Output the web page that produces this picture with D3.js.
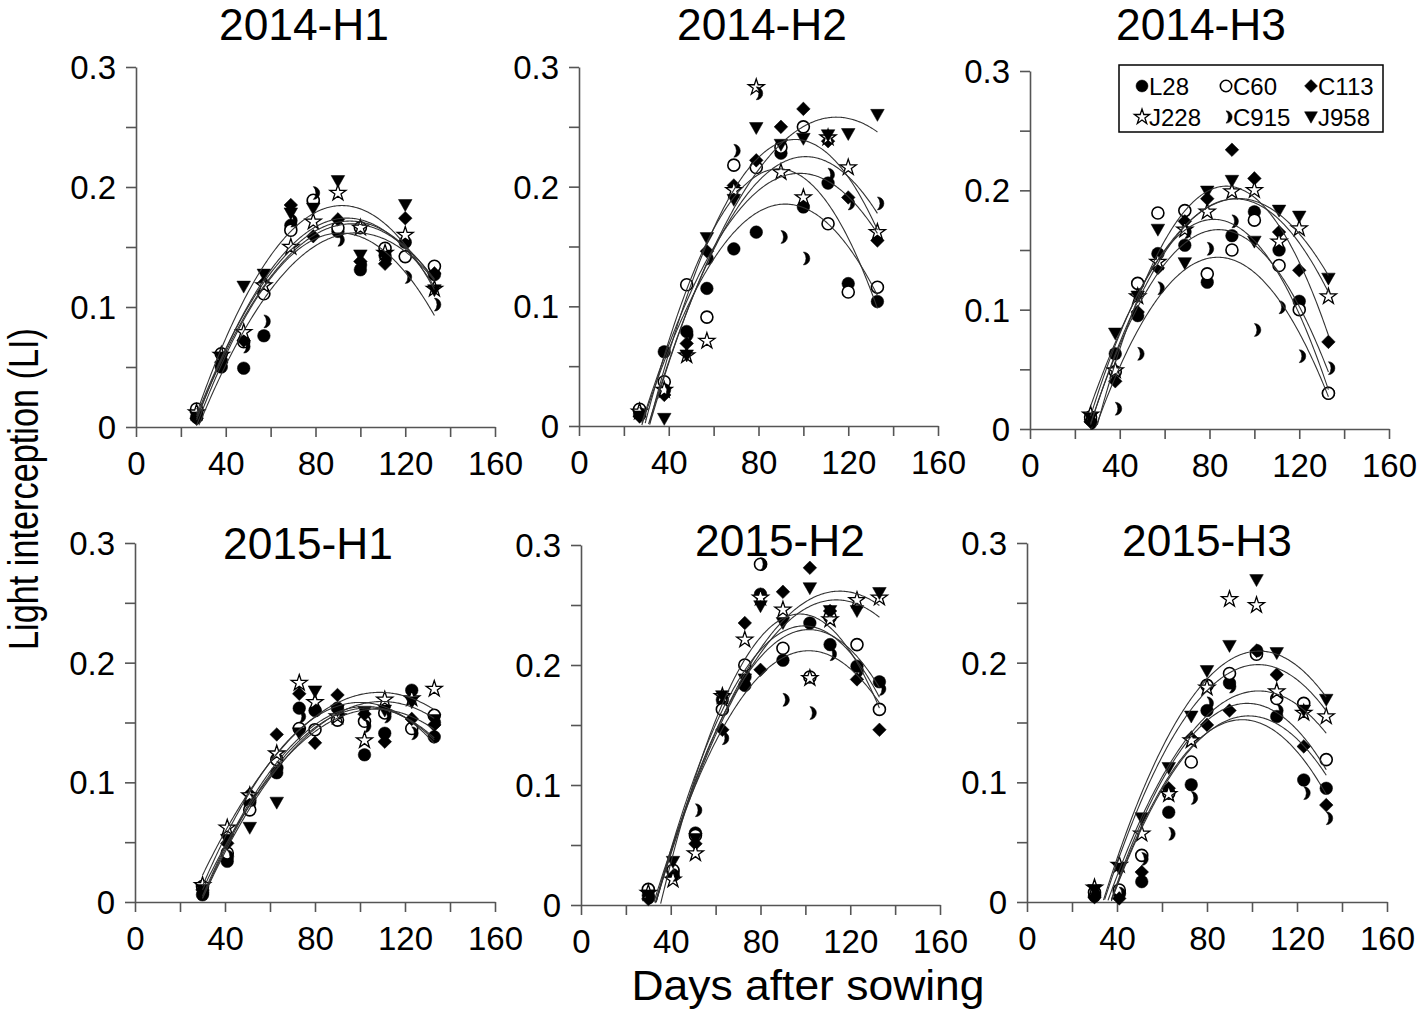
<!DOCTYPE html>
<html><head><meta charset="utf-8">
<script src="https://cdn.jsdelivr.net/npm/d3@7"></script>
<style>
body{margin:0;background:#fff}
svg{display:block}
text{font-family:"Liberation Sans",Arial,Helvetica,sans-serif;fill:#000}
</style>
</head><body>
<svg id="chart" width="1418" height="1013"></svg>
<script>
// ---------------- DATA ----------------
const genotypes = ["L28", "C60", "C113", "J228", "C915", "J958"];
const panelTitles = ["2014-H1", "2014-H2", "2014-H3", "2015-H1", "2015-H2", "2015-H3"];
const days2014 = [27, 38, 48, 57, 69, 79, 90, 100, 111, 120, 133];
const days2015 = [30, 41, 51, 63, 73, 80, 90, 102, 111, 123, 133];
const xTickValues = [0, 20, 40, 60, 80, 100, 120, 140, 160];
const xTickLabels = ["0", "", "40", "", "80", "", "120", "", "160"];
const yTickValues = [0, 0.05, 0.1, 0.15, 0.2, 0.25, 0.3];
const yTickLabels = ["0", "", "0.1", "", "0.2", "", "0.3"];

// rows follow genotypes order: L28, C60, C113, J228, C915, J958
const li2014H1 = [
  [0.008, 0.050, 0.049, 0.076, 0.168, 0.188, 0.163, 0.131, 0.143, 0.154, 0.127],
  [0.015, 0.061, 0.071, 0.111, 0.164, 0.189, 0.166, 0.166, 0.149, 0.142, 0.134],
  [0.007, 0.054, 0.072, 0.120, 0.185, 0.159, 0.173, 0.138, 0.136, 0.174, 0.128],
  [0.012, 0.060, 0.079, 0.118, 0.150, 0.171, 0.195, 0.166, 0.145, 0.160, 0.115],
  [0.010, 0.055, 0.067, 0.088, 0.172, 0.195, 0.156, 0.135, 0.140, 0.125, 0.102],
  [0.008, 0.058, 0.117, 0.127, 0.178, 0.182, 0.205, 0.143, 0.142, 0.185, 0.114]
];
const li2014H2 = [
  [0.010, 0.062, 0.079, 0.115, 0.148, 0.162, 0.228, 0.183, 0.203, 0.119, 0.104],
  [0.014, 0.037, 0.118, 0.091, 0.218, 0.216, 0.233, 0.250, 0.169, 0.112, 0.116],
  [0.008, 0.026, 0.069, 0.146, 0.201, 0.222, 0.250, 0.265, 0.238, 0.191, 0.155],
  [0.012, 0.030, 0.059, 0.071, 0.197, 0.283, 0.212, 0.191, 0.241, 0.216, 0.162],
  [0.010, 0.030, 0.076, 0.140, 0.230, 0.278, 0.158, 0.140, 0.210, 0.186, 0.186],
  [0.008, 0.006, 0.059, 0.157, 0.189, 0.249, 0.235, 0.240, 0.243, 0.244, 0.260]
];
const li2014H3 = [
  [0.008, 0.063, 0.095, 0.147, 0.154, 0.123, 0.162, 0.182, 0.150, 0.107, 0.030],
  [0.010, 0.048, 0.122, 0.181, 0.183, 0.130, 0.150, 0.175, 0.137, 0.100, 0.030],
  [0.006, 0.040, 0.098, 0.135, 0.174, 0.193, 0.234, 0.210, 0.165, 0.133, 0.073],
  [0.012, 0.049, 0.111, 0.140, 0.167, 0.182, 0.199, 0.200, 0.157, 0.168, 0.111],
  [0.005, 0.017, 0.063, 0.118, 0.165, 0.151, 0.174, 0.083, 0.102, 0.061, 0.051],
  [0.009, 0.080, 0.111, 0.167, 0.139, 0.199, 0.208, 0.157, 0.183, 0.178, 0.126]
];
const li2015H1 = [
  [0.006, 0.034, 0.083, 0.108, 0.162, 0.160, 0.162, 0.123, 0.141, 0.177, 0.138],
  [0.013, 0.041, 0.077, 0.119, 0.145, 0.144, 0.152, 0.151, 0.158, 0.145, 0.156],
  [0.010, 0.049, 0.090, 0.140, 0.174, 0.133, 0.173, 0.157, 0.134, 0.153, 0.148],
  [0.014, 0.062, 0.089, 0.124, 0.183, 0.167, 0.155, 0.135, 0.169, 0.170, 0.178],
  [0.008, 0.038, 0.085, 0.112, 0.155, 0.160, 0.158, 0.147, 0.155, 0.141, 0.150],
  [0.010, 0.052, 0.062, 0.083, 0.141, 0.176, 0.160, 0.159, 0.160, 0.167, 0.152]
];
const li2015H2 = [
  [0.008, 0.028, 0.060, 0.171, 0.183, 0.259, 0.204, 0.235, 0.217, 0.199, 0.186],
  [0.013, 0.029, 0.058, 0.163, 0.200, 0.284, 0.214, 0.190, 0.240, 0.217, 0.163],
  [0.005, 0.024, 0.051, 0.146, 0.235, 0.196, 0.261, 0.281, 0.245, 0.188, 0.146],
  [0.010, 0.021, 0.043, 0.174, 0.221, 0.256, 0.246, 0.189, 0.238, 0.254, 0.256],
  [0.006, 0.025, 0.079, 0.139, 0.190, 0.284, 0.171, 0.160, 0.209, 0.195, 0.180],
  [0.008, 0.036, 0.055, 0.174, 0.188, 0.249, 0.235, 0.264, 0.245, 0.245, 0.260]
];
const li2015H3 = [
  [0.005, 0.008, 0.017, 0.075, 0.098, 0.160, 0.183, 0.208, 0.155, 0.102, 0.095],
  [0.008, 0.010, 0.039, 0.091, 0.117, 0.181, 0.191, 0.207, 0.170, 0.166, 0.119],
  [0.004, 0.003, 0.025, 0.095, 0.137, 0.148, 0.160, 0.210, 0.190, 0.130, 0.081],
  [0.012, 0.031, 0.057, 0.090, 0.135, 0.179, 0.253, 0.248, 0.176, 0.158, 0.155],
  [0.006, 0.007, 0.036, 0.057, 0.087, 0.166, 0.180, 0.210, 0.160, 0.091, 0.070],
  [0.010, 0.028, 0.070, 0.112, 0.155, 0.193, 0.214, 0.269, 0.208, 0.160, 0.169]
];
const panelDays = [days2014, days2014, days2014, days2015, days2015, days2015];
const panelValues = [li2014H1, li2014H2, li2014H3, li2015H1, li2015H2, li2015H3];

// ---------------- LAYOUT ----------------
const layout = [
  {x0: 136, x1: 495, y0: 427, y1: 67, tx: 304, ty: 40},
  {x0: 579, x1: 938, y0: 426, y1: 67, tx: 762, ty: 40},
  {x0: 1030, x1: 1389, y0: 429, y1: 71, tx: 1201, ty: 40},
  {x0: 135, x1: 495, y0: 902, y1: 543, tx: 308, ty: 559},
  {x0: 581, x1: 940, y0: 905, y1: 545, tx: 780, ty: 556},
  {x0: 1027, x1: 1387, y0: 902, y1: 543, tx: 1207, ty: 556}
];

const svg = d3.select("#chart");
const AXIS = "#555";

// marker shapes
const moonPath = (r) => `M0,${-r} A${r},${r} 0 0 1 0,${r} A${r*1.45},${r*1.45} 0 0 0 0,${-r} Z`;
const markerDefs = [
  {type: "circle", r: 6.3, fill: "#000", stroke: "#000", sw: 0.5},
  {type: "circle", r: 6, fill: "#fff", stroke: "#000", sw: 1.6},
  {type: "path", d: "M0,-6.8 L6.8,0 L0,6.8 L-6.8,0 Z", fill: "#000", stroke: "#000", sw: 0.5},
  {type: "path", d: d3.symbol(d3.symbolStar, 80)(), fill: "#fff", stroke: "#000", sw: 1.3},
  {type: "path", d: moonPath(6.5), fill: "#000", stroke: "#000", sw: 0.5},
  {type: "path", d: "M-6.8,-5.5 L6.8,-5.5 L0,6.5 Z", fill: "#000", stroke: "#000", sw: 0.5}
];

function drawMarker(g, k, x, y, scale = 1) {
  const m = markerDefs[k];
  if (m.type === "circle") {
    g.append("circle").attr("cx", x).attr("cy", y).attr("r", m.r * scale)
      .attr("fill", m.fill).attr("stroke", m.stroke).attr("stroke-width", m.sw);
  } else {
    g.append("path").attr("d", m.d)
      .attr("transform", `translate(${x},${y}) scale(${scale})`)
      .attr("fill", m.fill).attr("stroke", m.stroke).attr("stroke-width", m.sw / scale);
  }
}

// quadratic least squares fit of the plotted points
function quadFit(xs, ys) {
  let S = [[0,0,0],[0,0,0],[0,0,0]], T = [0,0,0];
  xs.forEach((x, i) => {
    const p = [1, x, x*x];
    for (let a = 0; a < 3; a++) { T[a] += p[a]*ys[i]; for (let b = 0; b < 3; b++) S[a][b] += p[a]*p[b]; }
  });
  const M = S.map((r, i) => [...r, T[i]]);
  for (let c = 0; c < 3; c++) {
    let piv = c;
    for (let r = c+1; r < 3; r++) if (Math.abs(M[r][c]) > Math.abs(M[piv][c])) piv = r;
    [M[c], M[piv]] = [M[piv], M[c]];
    for (let r = 0; r < 3; r++) if (r !== c) {
      const f = M[r][c] / M[c][c];
      for (let k = c; k < 4; k++) M[r][k] -= f * M[c][k];
    }
  }
  return [M[0][3]/M[0][0], M[1][3]/M[1][1], M[2][3]/M[2][2]];
}

panelValues.forEach((vals, pi) => {
  const L = layout[pi];
  const days = panelDays[pi];
  const x = d3.scaleLinear().domain([0, 160]).range([L.x0, L.x1]);
  const y = d3.scaleLinear().domain([0, 0.3]).range([L.y0, L.y1]);
  const g = svg.append("g");

  const xa = g.append("g").attr("transform", `translate(0,${L.y0})`)
    .call(d3.axisBottom(x).tickValues(xTickValues).tickSize(10).tickSizeOuter(0)
      .tickPadding(15).tickFormat((d, i) => xTickLabels[i]));
  const ya = g.append("g").attr("transform", `translate(${L.x0},0)`)
    .call(d3.axisLeft(y).tickValues(yTickValues).tickSize(10).tickSizeOuter(0)
      .tickPadding(10).tickFormat((d, i) => yTickLabels[i]));
  [xa, ya].forEach(a => {
    a.select(".domain").attr("stroke", AXIS).attr("stroke-width", 1.6);
    a.selectAll(".tick line").attr("stroke", AXIS).attr("stroke-width", 1.6);
    a.selectAll("text").attr("font-size", 33).attr("fill", "#000")
      .style("font-family", '"Liberation Sans", Arial, sans-serif');
  });
  ya.selectAll("text").attr("dy", "0.35em");

  g.append("text").attr("x", L.tx).attr("y", L.ty).attr("text-anchor", "middle")
    .attr("font-size", 44).attr("textLength", 170).attr("lengthAdjust", "spacingAndGlyphs")
    .text(panelTitles[pi]);

  const mg = g.append("g");
  vals.forEach((series, k) => {
    series.forEach((v, i) => drawMarker(mg, k, x(days[i]), y(v)));
  });

  const line = d3.line().x(d => x(d[0])).y(d => y(d[1]));
  vals.forEach((series, k) => {
    const [c0, c1, c2] = quadFit(days, series);
    const pts = d3.range(days[0], days[days.length-1] + 0.001, 0.5)
      .map(t => [t, c0 + c1*t + c2*t*t]).filter(p => p[1] >= 0);
    g.append("path").attr("d", line(pts)).attr("fill", "none")
      .attr("stroke", "#333").attr("stroke-width", 1.1);
  });
});

// legend
const lg = svg.append("g");
lg.append("rect").attr("x", 1119).attr("y", 65).attr("width", 264).attr("height", 67)
  .attr("fill", "#fff").attr("stroke", "#000").attr("stroke-width", 1.5);
const legendPos = [
  [1142, 86], [1226, 86], [1311, 86],
  [1142, 117], [1226, 117], [1311, 117]
];
genotypes.forEach((gname, k) => {
  const [lx, ly] = legendPos[k];
  drawMarker(lg, k, lx, ly, 0.95);
  lg.append("text").attr("x", lx + 7).attr("y", ly + 8.5).attr("font-size", 24).text(gname);
});

// axis titles
svg.append("text").attr("transform", "translate(38,489) rotate(-90)")
  .attr("text-anchor", "middle").attr("font-size", 42)
  .attr("textLength", 322).attr("lengthAdjust", "spacingAndGlyphs")
  .text("Light interception (LI)");
svg.append("text").attr("x", 808).attr("y", 1000).attr("text-anchor", "middle")
  .attr("font-size", 42).attr("textLength", 353).attr("lengthAdjust", "spacingAndGlyphs")
  .text("Days after sowing");
</script>
</body></html>
